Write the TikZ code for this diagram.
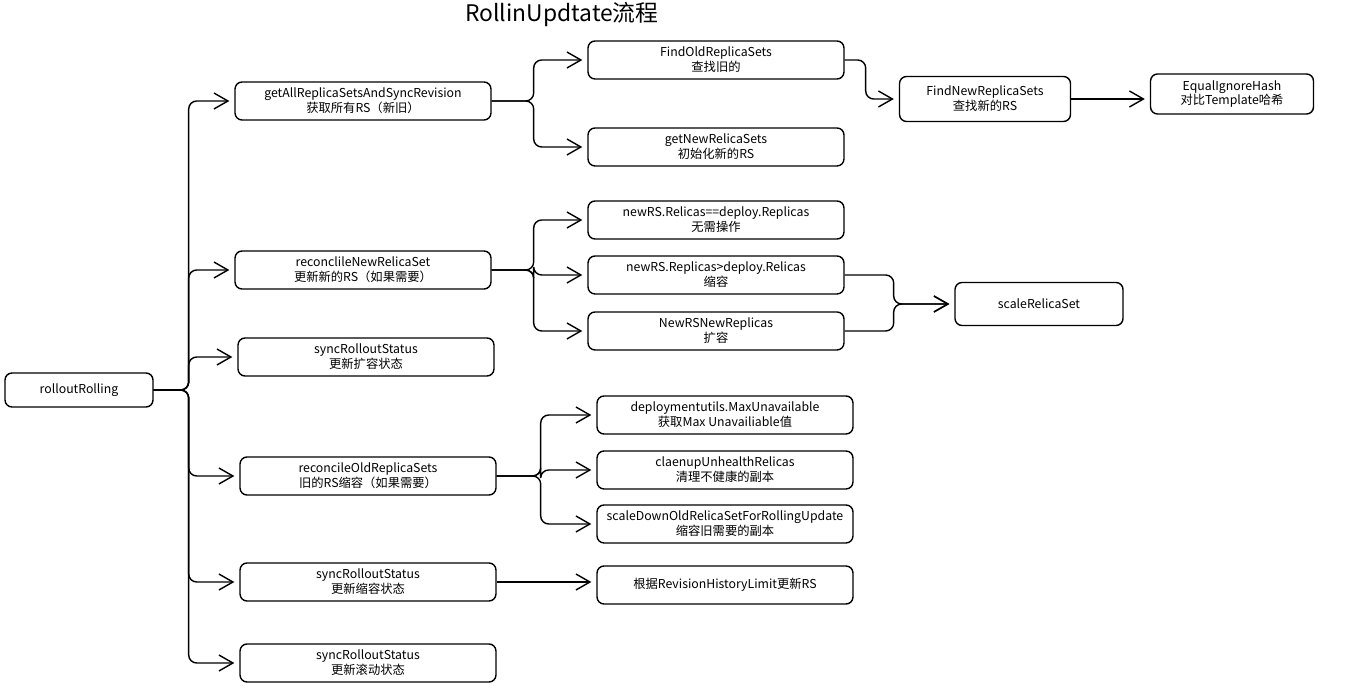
\documentclass[tikz,border=0pt]{standalone}
\usepackage{fontspec}
\setmainfont{Noto Sans CJK SC}
\usetikzlibrary{arrows.meta,positioning}
\begin{document}
\begin{tikzpicture}[
		x=0.02cm, y=0.02cm,
		stepbox/.style={draw, rounded corners=0.14cm, line width=0.8pt,
		minimum width=5.12cm, minimum height=0.76cm, inner sep=1pt,
		align=center, font=\fontsize{7}{8.5}\selectfont},
		arr/.style={-{Straight Barb[length=2.8mm,width=3.2mm]}, line width=0.8pt,
		rounded corners=0.16cm, shorten >=0.1cm}
		]
		\useasboundingbox (0,0) rectangle (1352,-695);
		\node[font=\fontsize{13}{15}\selectfont](title) at (562,-15){RollinUpdtate流程};
		\node[stepbox, minimum width=2.96cm, minimum height=0.68cm](root) at (79,-390){rolloutRolling};
		% first level
		\node[stepbox](getAll) at (363,-101){getAllReplicaSetsAndSyncRevision\\获取所有RS（新旧）};
		\node[stepbox](recNew) at (363,-270){reconclileNewRelicaSet\\更新新的RS（如果需要）};
		\node[stepbox](syncA) at (366,-357){syncRolloutStatus\\更新扩容状态};
		\node[stepbox](recOld) at (368,-476){reconcileOldReplicaSets\\旧的RS缩容（如果需要）};
		\node[stepbox](syncB) at (368,-582){syncRolloutStatus\\更新缩容状态};
		\node[stepbox](syncC) at (368,-663){syncRolloutStatus\\更新滚动状态};
		\foreach \child in {getAll, recNew, syncA, recOld, syncB, syncC}
		\draw[arr] (root.east) -- ++(35,0) |- (\child.west);
		% all replica sets
		\node[stepbox](findOld) at (716,-60){FindOldReplicaSets\\查找旧的};
		\node[stepbox, below of = findOld, yshift = -0.74cm](getNew){getNewRelicaSets\\初始化新的RS};
		\node[stepbox, minimum width=3.42cm, minimum height=0.9cm](findNew) at (985,-99){FindNewReplicaSets\\查找新的RS};
		\node[stepbox, minimum width=3.26cm, minimum height=0.8cm](eqHash) at (1232,-94){EqualIgnoreHash\\对比Template哈希};
		\draw[arr] (getAll.east) -- ++(42,0) |- (findOld.west);
		\draw[arr] (getAll.east) -- ++(42,0) |- (getNew.west);
		\draw[arr] (findOld.east) -- ++(21,0) |- (findNew.west);
		\draw[arr] (findNew.east) -- (findNew.east -| eqHash.west);
		% new replica set
		\node[stepbox](nrEq) at (716,-220){newRS.Relicas==deploy.Replicas\\无需操作};
		\node[stepbox, below of = nrEq, yshift = -0.1cm](nrDown){newRS.Replicas>deploy.Relicas\\缩容};
		\node[stepbox, below of = nrDown, yshift = -0.12cm](nrUp){NewRSNewReplicas\\扩容};
		\node[stepbox, minimum width=3.36cm, minimum height=0.86cm](scaleRS) at (1039,-304){scaleRelicaSet};
		\foreach \child in {nrEq, nrDown, nrUp}
		\draw[arr] (recNew.east) -- ++(42,0) |- (\child.west);
		\draw[arr] (nrDown.east) -- ++(49,0) |- (scaleRS.west);
		\draw[arr] (nrUp.east) -- ++(49,0) |- (scaleRS.west);
		% old replica sets
		\node[stepbox](oldMax) at (725,-415){deploymentutils.MaxUnavailable\\获取Max Unavailiable值};
		\node[stepbox, below of = oldMax, yshift = -0.1cm](oldClean){claenupUnhealthRelicas\\清理不健康的副本};
		\node[stepbox, below of = oldClean, yshift = -0.08cm](oldDown){scaleDownOldRelicaSetForRollingUpdate\\缩容旧需要的副本};
		\node[stepbox](rsLimit) at (725,-585){根据RevisionHistoryLimit更新RS};
		\foreach \child in {oldMax, oldClean, oldDown}
		\draw[arr] (recOld.east) -- ++(44,0) |- (\child.west);
		\draw[arr] (syncB.east) -- (syncB.east -| rsLimit.west);
	\end{tikzpicture}
\end{document}
